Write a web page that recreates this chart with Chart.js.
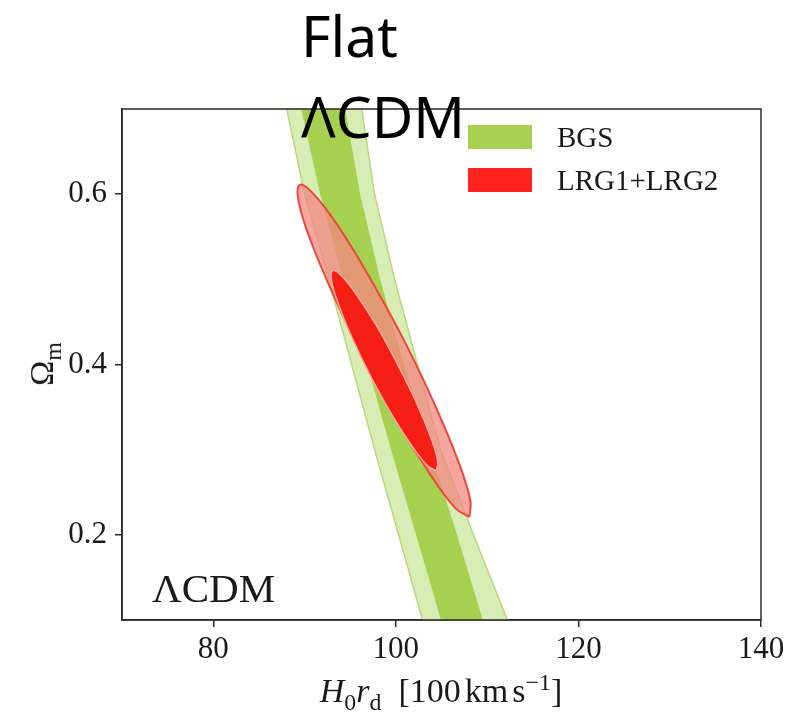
<!DOCTYPE html>
<html>
<head>
<meta charset="utf-8">
<script src="https://cdn.jsdelivr.net/npm/chart.js@4.4.0/dist/chart.umd.min.js"></script>
<style>
	body { margin: 0; background: #fff; }
	#wrap { position: relative; width: 790px; height: 724px; overflow: hidden; }
	#chart { position: absolute; left: 0; top: 0; }
	.serif { position: absolute; font-family: "Liberation Serif", "DejaVu Serif", serif; color: #1a1a1a; white-space: nowrap; }
	#title { position: absolute; left: 301px; top: -5px; font-family: "Noto Sans", sans-serif; font-size: 57px; line-height: 81px; color: #000; }
	#legend { left: 468px; top: 125px; font-size: 29px; }
	#legend .row { display: flex; align-items: center; height: 24px; margin-bottom: 19px; }
	#legend .box { width: 64px; height: 24px; margin-right: 25px; box-sizing: border-box; }
	#xtitle { left: 141px; width: 600px; top: 671px; text-align: center; font-size: 34px; line-height: 40px; }
	#ytitle { left: 42px; top: 364px; font-size: 34px; line-height: 40px; transform: translate(-50%, -50%) rotate(-90deg); }
	#model { left: 152px; top: 566px; font-size: 41px; line-height: 44px; }
	sub, sup { font-size: 0.7em; line-height: 0; }
	.th { margin-left: 0.12em; }
</style>
</head>
<body>
<div id="wrap">
	<canvas id="chart" width="790" height="724"></canvas>
	<div id="title">Flat<br>ΛCDM</div>
	<div id="legend" class="serif"></div>
	<div id="xtitle" class="serif"><i>H</i><sub>0</sub><i>r</i><sub>d</sub>&nbsp; [100<span class="th">km</span><span class="th">s<sup>−1</sup></span>]</div>
	<div id="ytitle" class="serif">Ω<sub>m</sub></div>
	<div id="model" class="serif">ΛCDM</div>
</div>
<script>
// axis ticks
const xTicks = [80, 100, 120, 140];
const yTicks = [0.2, 0.4, 0.6];

// BGS band edges, read at these Omega_m levels
const bgsLevels = [0.7, 0.6, 0.5, 0.4, 0.3, 0.2, 0.1];
const bgsOuterLeft = [88.05, 90.0, 92.64, 95.16, 97.67, 100.3, 102.92];
const bgsOuterRight = [96.25, 97.67, 99.86, 102.37, 104.89, 108.5, 112.22];
const bgsInnerLeft = [89.69, 91.77, 94.28, 96.91, 99.53, 102.27, 105.0];
const bgsInnerRight = [94.39, 96.03, 98.22, 100.84, 103.69, 106.64, 109.48];

// LRG1+LRG2 contours (outline points, going round)
const lrgOuterX = [108.06, 108.17, 106.85, 104.30, 100.91, 97.19, 93.71, 91.0, 89.47, 89.36, 90.68, 93.23, 96.62, 100.34, 103.82, 106.54];
const lrgOuterY = [0.221, 0.240, 0.286, 0.352, 0.428, 0.501, 0.562, 0.600, 0.611, 0.591, 0.545, 0.480, 0.404, 0.330, 0.270, 0.231];
const lrgInnerX = [104.45, 104.57, 103.80, 102.26, 100.19, 97.91, 95.75, 94.06, 93.08, 92.97, 93.74, 95.27, 97.34, 99.62, 101.78, 103.47];
const lrgInnerY = [0.275, 0.287, 0.315, 0.355, 0.400, 0.445, 0.481, 0.504, 0.510, 0.498, 0.470, 0.430, 0.384, 0.340, 0.304, 0.281];

const seriesNames = ['BGS', 'LRG1+LRG2'];
const legendColors = ['#a8d14f', '#ff2420'];

let band = (left, right) => {
	let pts = [];
	bgsLevels.forEach((y, i) => pts.push({ x: left[i], y: y }));
	for (let i = bgsLevels.length - 1; i >= 0; i--) {
		pts.push({ x: right[i], y: bgsLevels[i] });
	}
	pts.push(pts[0]);
	return pts;
};

let loop = (xs, ys) => {
	let pts = xs.map((x, i) => ({ x: x, y: ys[i] }));
	pts.push(pts[0]);
	return pts;
};

let frame = {
	id: 'frame',
	afterDatasetsDraw(chart) {
		let a = chart.chartArea;
		let ctx = chart.ctx;
		ctx.save();
		ctx.strokeStyle = '#2a2a2a';
		ctx.lineWidth = 1.5;
		ctx.strokeRect(a.left, a.top, a.right - a.left, a.bottom - a.top);
		ctx.restore();
	}
};

let tickFont = { family: '"Liberation Serif", "DejaVu Serif", serif', size: 31 };

let config = {
	type: 'scatter',
	data: {
		datasets: [
			{
				label: 'BGS 95%',
				data: band(bgsOuterLeft, bgsOuterRight),
				showLine: true, tension: 0, pointRadius: 0,
				borderColor: '#b6da7c', borderWidth: 1.5,
				backgroundColor: '#d8ecb6', fill: 'shape', order: 4
			},
			{
				label: 'BGS 68%',
				data: band(bgsInnerLeft, bgsInnerRight),
				showLine: true, tension: 0, pointRadius: 0,
				borderColor: '#a6d050', borderWidth: 1,
				backgroundColor: '#a6d050', fill: 'shape', order: 3
			},
			{
				label: 'LRG1+LRG2 95%',
				data: loop(lrgOuterX, lrgOuterY),
				showLine: true, tension: 0.4, pointRadius: 0,
				borderColor: 'rgba(236,64,54,0.95)', borderWidth: 2,
				backgroundColor: 'rgba(244,135,128,0.75)', fill: 'shape', order: 2
			},
			{
				label: 'LRG1+LRG2 68%',
				data: loop(lrgInnerX, lrgInnerY),
				showLine: true, tension: 0.4, pointRadius: 0,
				borderColor: '#f7a69c', borderWidth: 1.5,
				backgroundColor: '#f41e15', fill: 'shape', order: 1
			}
		]
	},
	options: {
		responsive: false,
		animation: false,
		events: [],
		layout: { padding: { left: 0, right: 29, top: 109, bottom: 0 } },
		plugins: { legend: { display: false }, tooltip: { enabled: false } },
		scales: {
			x: {
				type: 'linear', min: 70, max: 140,
				afterFit: (axis) => { axis.height = 104; },
				afterBuildTicks: (axis) => { axis.ticks = xTicks.map(v => ({ value: v })); },
				grid: { drawOnChartArea: false, drawTicks: true, tickLength: 7, color: '#2a2a2a', lineWidth: 1.5 },
				border: { display: true, color: '#2a2a2a', width: 1.5 },
				ticks: { color: '#1a1a1a', font: tickFont, padding: 4, maxRotation: 0 }
			},
			y: {
				type: 'linear', min: 0.1, max: 0.7,
				afterFit: (axis) => { axis.width = 122; },
				afterBuildTicks: (axis) => { axis.ticks = yTicks.map(v => ({ value: v })); },
				grid: { drawOnChartArea: false, drawTicks: true, tickLength: 7, color: '#2a2a2a', lineWidth: 1.5 },
				border: { display: true, color: '#2a2a2a', width: 1.5 },
				ticks: { color: '#1a1a1a', font: tickFont, padding: 8, callback: (v) => v.toFixed(1) }
			}
		}
	},
	plugins: [frame]
};

let myChart = new Chart(document.getElementById('chart'), config);

// legend in the top right of the plot
let legend = document.getElementById('legend');
seriesNames.forEach((name, i) => {
	let row = document.createElement('div');
	row.className = 'row';
	let box = document.createElement('div');
	box.className = 'box';
	box.style.background = legendColors[i];
	let txt = document.createElement('span');
	txt.textContent = name;
	row.appendChild(box);
	row.appendChild(txt);
	legend.appendChild(row);
});
</script>
</body>
</html>
